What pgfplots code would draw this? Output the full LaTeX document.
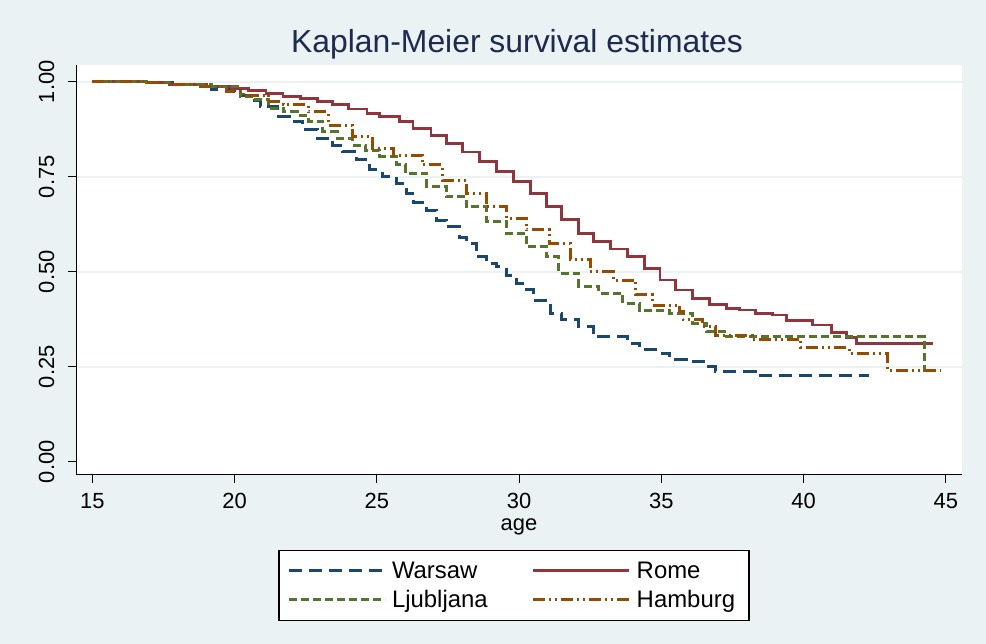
\documentclass[border=0pt]{standalone}
\usepackage{pgfplots}
\pgfplotsset{compat=1.18}
\usepackage{fontspec}
\setmainfont{Liberation Sans}
\definecolor{bgc}{RGB}{234,242,243}
\definecolor{gridc}{RGB}{234,242,243}
\definecolor{cwar}{RGB}{26,71,111}
\definecolor{crom}{RGB}{144,53,59}
\definecolor{clju}{RGB}{85,117,47}
\definecolor{cham}{RGB}{150,75,0}
\definecolor{ctitle}{RGB}{30,42,78}
\begin{document}
\begin{tikzpicture}
\useasboundingbox (0,0) rectangle (986bp,644bp);
\fill[bgc] (0,0) rectangle (986bp,644bp);
\begin{axis}[
  at={(76.5bp,169bp)}, anchor=south west,
  scale only axis, width=885bp, height=410bp,
  xmin=14.44, xmax=45.55, ymin=-0.035, ymax=1.044,
  axis background/.style={fill=white},
  axis x line=bottom, axis y line=left,
  axis line style={-, line width=1bp, black},
  xtick={15,20,25,30,35,40,45},
  ytick={0.25,0.5,0.75,1},
  extra y ticks={0},
  extra y tick style={grid=none},
  ymajorgrids=true,
  grid style={gridc, line width=2bp},
  tick align=outside,
  major tick length=8bp,
  tick style={black, line width=1bp},
  /pgf/number format/assume math mode=true,
  yticklabel={\pgfmathprintnumber[fixed,fixed zerofill,precision=2]{\tick}},
  xticklabel={\pgfmathprintnumber{\tick}},
  ticklabel style={font=\fontsize{22}{25}\selectfont, inner sep=0pt},
  yticklabel style={rotate=90, anchor=south},
  xticklabel style={anchor=north},
  xticklabel shift=10bp,
  yticklabel shift=14bp,
  legend columns=2,
  legend cell align=left,
  legend image code/.code={\draw[#1] (0bp,0bp) -- (96bp,0bp);},
  legend style={at={(0.4944,-0.2695)}, anchor=center, draw=black, line width=1.5bp, fill=white,
    font=\fontsize{24}{28}\selectfont, inner xsep=8bp, inner ysep=9bp, row sep=7bp,
    /tikz/every even column/.append style={column sep=38bp},
    nodes={inner xsep=6bp, inner ysep=2bp}},
]
\addplot[const plot, cwar, line width=3bp, dash pattern=on 13bp off 7bp] coordinates {
(15,1.0) (16.9,0.997) (17.8,0.992) (19.2,0.98) (20.0,0.965) (20.5,0.95) (20.9,0.934)
(21.5,0.908) (21.94,0.895) (22.4,0.873) (22.9,0.851) (23.45,0.833) (23.8,0.816)
(24.3,0.794) (24.75,0.768) (25.2,0.75) (25.7,0.733) (26.04,0.706) (26.3,0.681)
(26.75,0.662) (27.1,0.636) (27.45,0.618) (27.9,0.589) (28.15,0.575) (28.5,0.539)
(28.85,0.522) (29.2,0.513) (29.56,0.491) (29.9,0.469) (30.26,0.452) (30.5,0.425)
(31.1,0.39) (31.5,0.373) (32.1,0.355) (32.6,0.329) (33.8,0.312) (34.24,0.294)
(34.9,0.286) (35.3,0.268) (35.9,0.263) (36.6,0.25) (36.9,0.237) (38.3,0.228) (42.3,0.228)
};
\addlegendentry{Warsaw}
\addplot[const plot, crom, line width=2.8bp] coordinates {
(15,1.0) (16.9,0.997) (17.7,0.993) (19.0,0.988) (19.9,0.983) (20.5,0.977) (21.1,0.969)
(21.7,0.962) (22.3,0.956) (22.9,0.948) (23.45,0.939) (24.0,0.928) (24.65,0.917)
(25.1,0.908) (25.8,0.895) (26.27,0.877) (26.9,0.858) (27.45,0.838) (28.0,0.815)
(28.6,0.789) (29.2,0.763) (29.8,0.737) (30.4,0.705) (30.97,0.671) (31.5,0.638)
(32.1,0.601) (32.6,0.58) (33.2,0.56) (33.8,0.54) (34.4,0.508) (34.95,0.478)
(35.5,0.452) (36.1,0.43) (36.7,0.414) (37.3,0.404) (37.75,0.399) (38.3,0.391)
(38.9,0.386) (39.4,0.371) (40.3,0.36) (40.97,0.339) (41.5,0.326) (41.87,0.311) (44.54,0.311)
};
\addlegendentry{Rome}
\addplot[const plot, clju, line width=3bp, dash pattern=on 8bp off 4bp] coordinates {
(15,1.0) (16.9,0.997) (17.8,0.992) (19.2,0.987) (20.2,0.96) (20.6,0.952) (21.2,0.93)
(21.7,0.921) (22.2,0.912) (22.6,0.895) (23.1,0.868) (23.6,0.851) (24.15,0.833)
(24.6,0.82) (25.1,0.803) (25.7,0.781) (26.0,0.759) (26.75,0.724) (27.45,0.697)
(28.15,0.671) (28.85,0.632) (29.56,0.601) (30.26,0.566) (30.96,0.539) (31.4,0.496)
(32.1,0.462) (32.8,0.443) (33.65,0.417) (34.24,0.399) (35.3,0.39) (36.1,0.364)
(36.6,0.342) (37.3,0.329) (44.26,0.241) (44.4,0.241)
};
\addlegendentry{Ljubljana}
\addplot[const plot, cham, line width=3bp, dash pattern=on 12bp off 4bp on 2bp off 4bp on 2bp off 4bp] coordinates {
(15,1.0) (16.9,0.997) (17.8,0.992) (18.8,0.987) (19.7,0.974) (20.3,0.965) (21.2,0.947)
(21.7,0.939) (22.6,0.921) (23.3,0.886) (24.15,0.855) (24.86,0.825) (25.57,0.807)
(26.6,0.781) (27.3,0.741) (28.15,0.706) (28.85,0.671) (29.56,0.641) (30.26,0.61)
(31.08,0.575) (31.8,0.533) (32.5,0.5) (33.3,0.478) (34.1,0.439) (34.7,0.412)
(35.65,0.395) (35.76,0.373) (36.46,0.355) (36.9,0.333) (38.2,0.322) (39.9,0.3)
(41.6,0.286) (42.95,0.241) (44.8,0.241)
};
\addlegendentry{Hamburg}
\end{axis}
\node[ctitle, font=\fontsize{32}{35}\selectfont] at (517bp,600bp) {Kaplan-Meier survival estimates};
\node[black, font=\fontsize{22}{25}\selectfont] at (519bp,117bp) {age};
\end{tikzpicture}
\end{document}
